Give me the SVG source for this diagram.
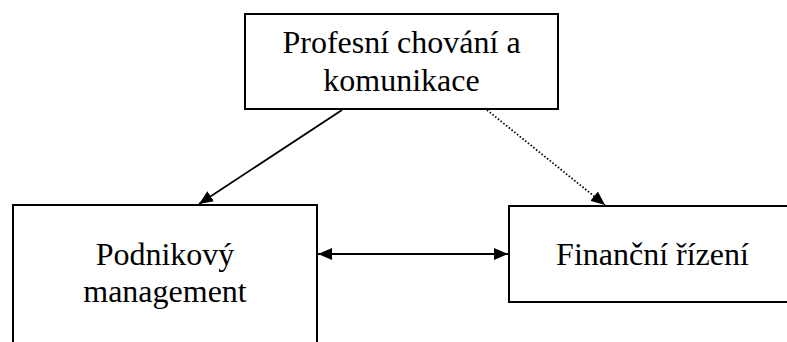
<svg xmlns="http://www.w3.org/2000/svg" width="787" height="342" viewBox="0 0 787 342">
<style>
.box{fill:#fff;stroke:#000;stroke-width:2}
.lbl{font-family:"Liberation Serif","Times New Roman",serif;font-size:32px;fill:#000;text-anchor:middle}
.con{fill:none;stroke:#000;stroke-width:1.8}
.dot{stroke-dasharray:1.5 2}
</style>
<defs>
<marker id="ah" viewBox="0 0 14 12" refX="14" refY="6" markerWidth="14" markerHeight="12" markerUnits="userSpaceOnUse" orient="auto-start-reverse">
<path d="M0,0 L14,6 L0,12 Z" fill="#000"/>
</marker>
</defs>
<rect width="787" height="342" fill="#fff"/>
<g id="connectors">
<line class="con" x1="342" y1="110" x2="199" y2="204" marker-end="url(#ah)"/>
<line class="con dot" x1="487" y1="110" x2="605" y2="205" marker-end="url(#ah)"/>
<line class="con" x1="318" y1="254" x2="508" y2="254" marker-start="url(#ah)" marker-end="url(#ah)"/>
</g>
<g id="profesni">
<rect class="box" x="245" y="14" width="313" height="95"/>
<text class="lbl" x="401.5" y="53">Profesní chování a</text>
<text class="lbl" x="401.5" y="91">komunikace</text>
</g>
<g id="podnikovy">
<rect class="box" x="13" y="205" width="304" height="160"/>
<text class="lbl" x="165" y="265">Podnikový</text>
<text class="lbl" x="165" y="302">management</text>
</g>
<g id="financni">
<rect class="box" x="509" y="206" width="290" height="96"/>
<text class="lbl" x="652.5" y="265">Finanční řízení</text>
</g>
</svg>
